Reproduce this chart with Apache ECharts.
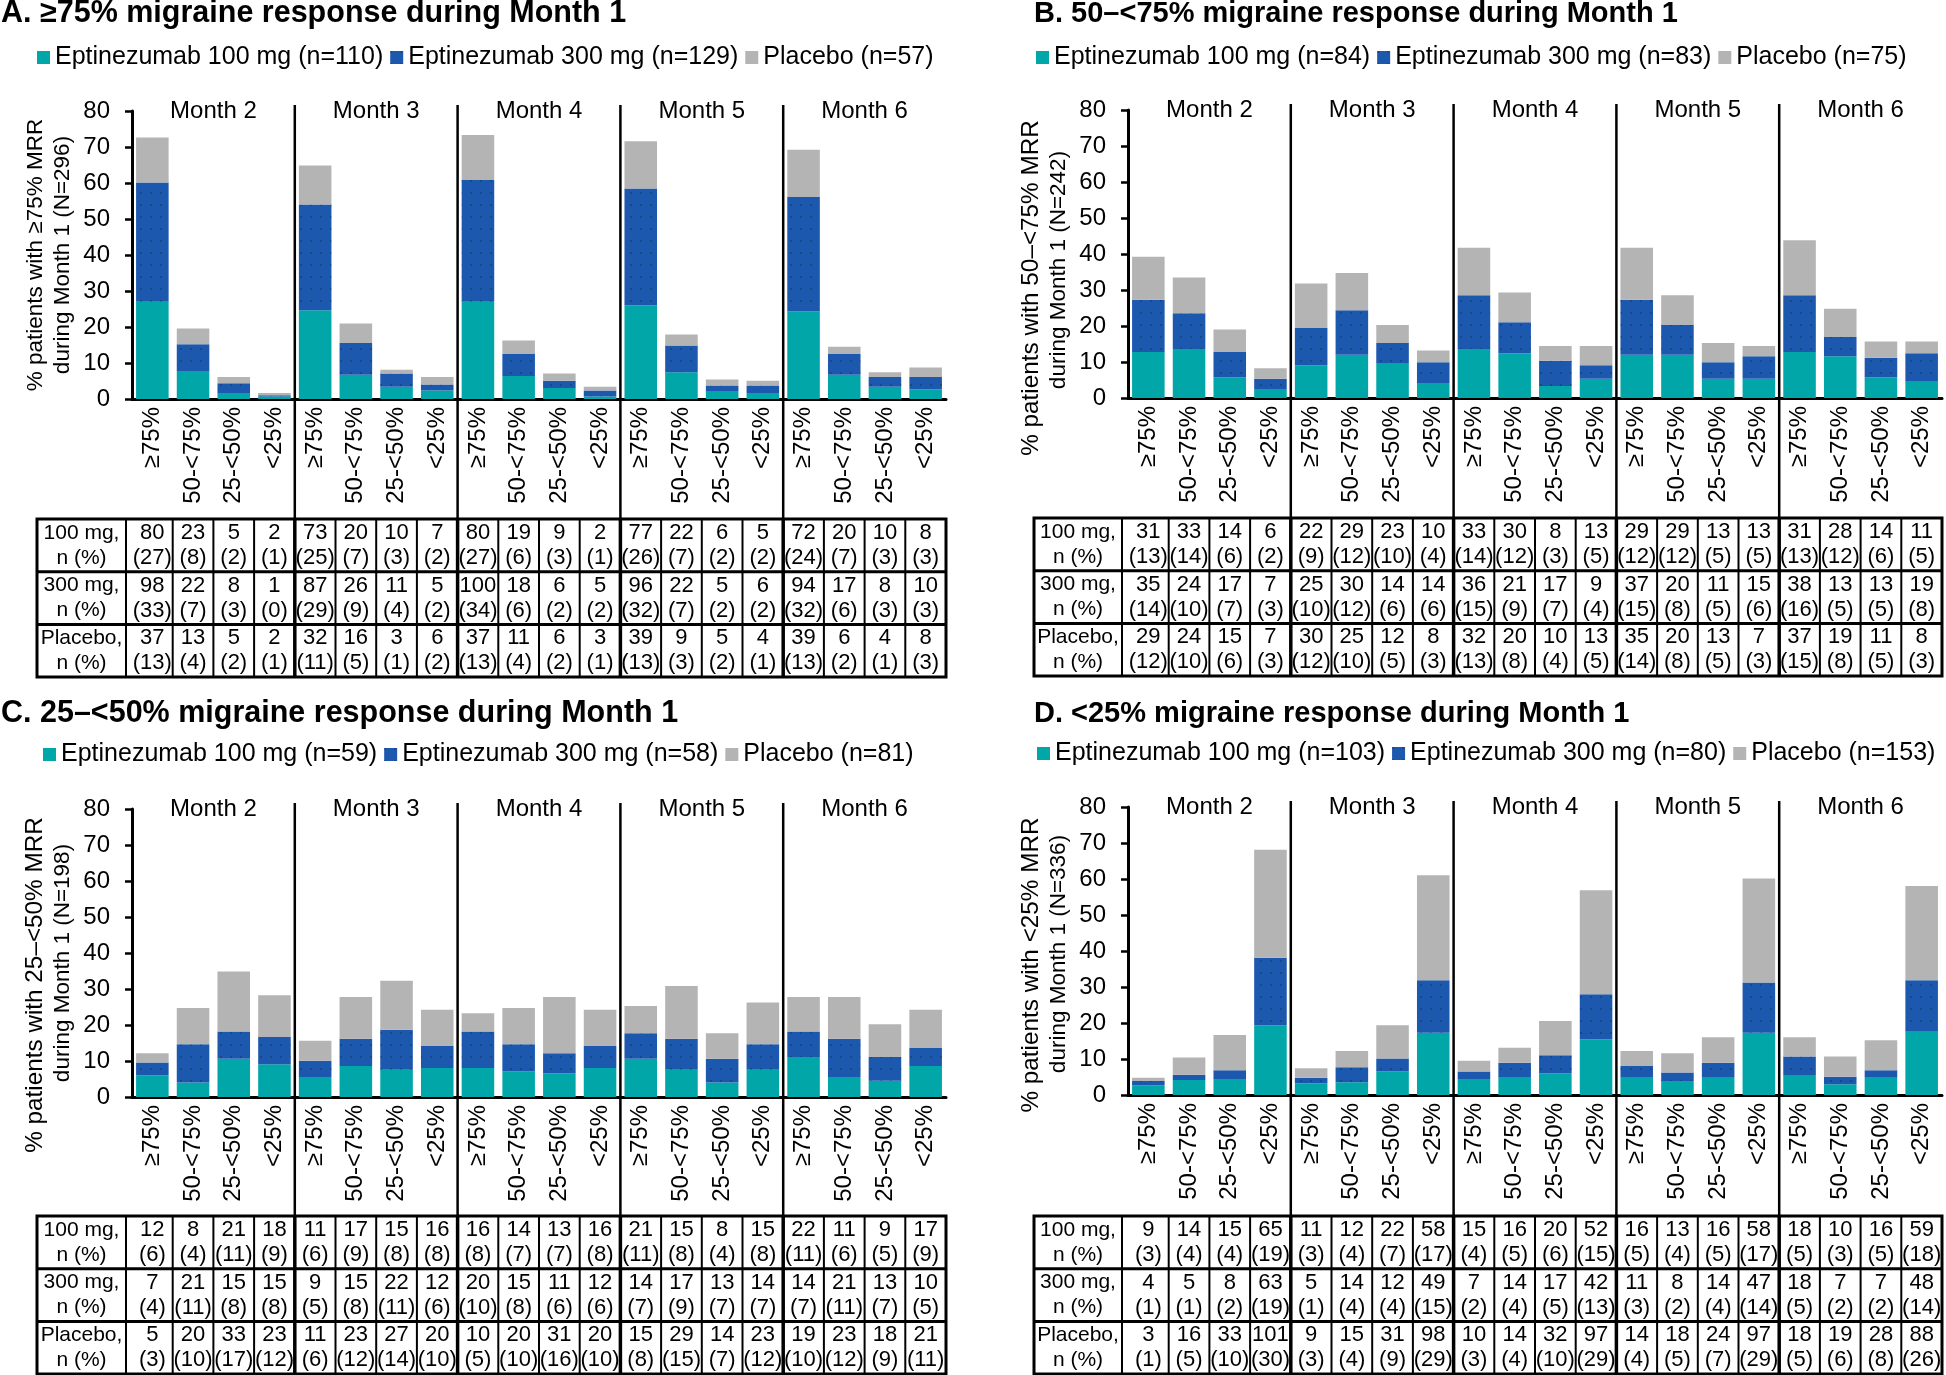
<!DOCTYPE html>
<html><head><meta charset="utf-8">
<script src="https://cdn.jsdelivr.net/npm/echarts@6/dist/echarts.min.js"></script>
<style>html,body{margin:0;padding:0;background:#fff}#main{width:1946px;height:1375px}</style>
</head><body><div id="main"></div>
<script>
// ---------------- DATA ----------------
const months = ['Month 2', 'Month 3', 'Month 4', 'Month 5', 'Month 6'];
const responseCats = ['≥75%', '50-<75%', '25-<50%', '<25%'];
const rowLabels = [['100 mg,', 'n (%)'], ['300 mg,', 'n (%)'], ['Placebo,', 'n (%)']];

const panelTitles = [
  'A. ≥75% migraine response during Month 1',
  'B. 50–<75% migraine response during Month 1',
  'C. 25–<50% migraine response during Month 1',
  'D. <25% migraine response during Month 1'
];
const axisNameLine1 = [
  '% patients with ≥75% MRR',
  '% patients with 50–<75% MRR',
  '% patients with 25–<50% MRR',
  '% patients with <25% MRR'
];
const axisNameLine2 = [
  'during Month 1 (N=296)',
  'during Month 1 (N=242)',
  'during Month 1 (N=198)',
  'during Month 1 (N=336)'
];
const panelTotals = [296, 242, 198, 336];
const legendA = ['Eptinezumab 100 mg (n=110)', 'Eptinezumab 300 mg (n=129)', 'Placebo (n=57)'];
const legendB = ['Eptinezumab 100 mg (n=84)', 'Eptinezumab 300 mg (n=83)', 'Placebo (n=75)'];
const legendC = ['Eptinezumab 100 mg (n=59)', 'Eptinezumab 300 mg (n=58)', 'Placebo (n=81)'];
const legendD = ['Eptinezumab 100 mg (n=103)', 'Eptinezumab 300 mg (n=80)', 'Placebo (n=153)'];

// Panel A (counts n and printed %), order: Month2..Month6 x [>=75, 50-<75, 25-<50, <25]
const A_n100   = [80,23,5,2, 73,20,10,7, 80,19,9,2, 77,22,6,5, 72,20,10,8];
const A_pct100 = [27,8,2,1, 25,7,3,2, 27,6,3,1, 26,7,2,2, 24,7,3,3];
const A_n300   = [98,22,8,1, 87,26,11,5, 100,18,6,5, 96,22,5,6, 94,17,8,10];
const A_pct300 = [33,7,3,0, 29,9,4,2, 34,6,2,2, 32,7,2,2, 32,6,3,3];
const A_nPbo   = [37,13,5,2, 32,16,3,6, 37,11,6,3, 39,9,5,4, 39,6,4,8];
const A_pctPbo = [13,4,2,1, 11,5,1,2, 13,4,2,1, 13,3,2,1, 13,2,1,3];

// Panel B
const B_n100   = [31,33,14,6, 22,29,23,10, 33,30,8,13, 29,29,13,13, 31,28,14,11];
const B_pct100 = [13,14,6,2, 9,12,10,4, 14,12,3,5, 12,12,5,5, 13,12,6,5];
const B_n300   = [35,24,17,7, 25,30,14,14, 36,21,17,9, 37,20,11,15, 38,13,13,19];
const B_pct300 = [14,10,7,3, 10,12,6,6, 15,9,7,4, 15,8,5,6, 16,5,5,8];
const B_nPbo   = [29,24,15,7, 30,25,12,8, 32,20,10,13, 35,20,13,7, 37,19,11,8];
const B_pctPbo = [12,10,6,3, 12,10,5,3, 13,8,4,5, 14,8,5,3, 15,8,5,3];

// Panel C
const C_n100   = [12,8,21,18, 11,17,15,16, 16,14,13,16, 21,15,8,15, 22,11,9,17];
const C_pct100 = [6,4,11,9, 6,9,8,8, 8,7,7,8, 11,8,4,8, 11,6,5,9];
const C_n300   = [7,21,15,15, 9,15,22,12, 20,15,11,12, 14,17,13,14, 14,21,13,10];
const C_pct300 = [4,11,8,8, 5,8,11,6, 10,8,6,6, 7,9,7,7, 7,11,7,5];
const C_nPbo   = [5,20,33,23, 11,23,27,20, 10,20,31,20, 15,29,14,23, 19,23,18,21];
const C_pctPbo = [3,10,17,12, 6,12,14,10, 5,10,16,10, 8,15,7,12, 10,12,9,11];

// Panel D
const D_n100   = [9,14,15,65, 11,12,22,58, 15,16,20,52, 16,13,16,58, 18,10,16,59];
const D_pct100 = [3,4,4,19, 3,4,7,17, 4,5,6,15, 5,4,5,17, 5,3,5,18];
const D_n300   = [4,5,8,63, 5,14,12,49, 7,14,17,42, 11,8,14,47, 18,7,7,48];
const D_pct300 = [1,1,2,19, 1,4,4,15, 2,4,5,13, 3,2,4,14, 5,2,2,14];
const D_nPbo   = [3,16,33,101, 9,15,31,98, 10,14,32,97, 14,18,24,97, 18,19,28,88];
const D_pctPbo = [1,5,10,30, 3,4,9,29, 3,4,10,29, 4,5,7,29, 5,6,8,26];

// ---------------- ASSEMBLY ----------------
const panels = [
  { legend: legendA, n: [A_n100, A_n300, A_nPbo], pct: [A_pct100, A_pct300, A_pctPbo] },
  { legend: legendB, n: [B_n100, B_n300, B_nPbo], pct: [B_pct100, B_pct300, B_pctPbo] },
  { legend: legendC, n: [C_n100, C_n300, C_nPbo], pct: [C_pct100, C_pct300, C_pctPbo] },
  { legend: legendD, n: [D_n100, D_n300, D_nPbo], pct: [D_pct100, D_pct300, D_pctPbo] }
];

const FONT = "'Liberation Sans', Arial, Helvetica, sans-serif";
const armColors = ['#00A6A8', '#1D58AF', '#B4B4B4'];
// layout: grid position, title, legend, table, y-axis-name styling
const layout = [
  { gx: 132,  gy: 111, tx: 1,    ty: -2,  ts: 30.5, lx: 37,   ly: 45,  tabX: 37,   tabY: 519,  n1: 22.5, s1: 0,  s2: 0 },
  { gx: 1128, gy: 110, tx: 1034, ty: -1,  ts: 29,   lx: 1036, ly: 45,  tabX: 1034, tabY: 518,  n1: 24.3, s1: 34, s2: 16 },
  { gx: 132,  gy: 809, tx: 1,    ty: 698, ts: 30.5, lx: 43,   ly: 742, tabX: 37,   tabY: 1216, n1: 24.3, s1: 32, s2: 10 },
  { gx: 1128, gy: 807, tx: 1034, ty: 699, ts: 29,   lx: 1037, ly: 741, tabX: 1034, tabY: 1216, n1: 24.3, s1: 14, s2: 3 }
];
const GW = 814, GH = 288, ROWH = 52.7;

const xCats = [];
months.forEach(() => responseCats.forEach(c => xCats.push(c)));

const option = {
  animation: false,
  backgroundColor: '#fff',
  title: [], legend: [], grid: [], xAxis: [], yAxis: [], series: []
};

panels.forEach((p, pi) => {
  const L = layout[pi];
  option.title.push({
    text: panelTitles[pi], left: L.tx, top: L.ty, padding: 0,
    textStyle: { fontFamily: FONT, fontSize: L.ts, fontWeight: 'bold', color: '#000' }
  });
  option.legend.push({
    data: p.legend, left: L.lx, top: L.ly, padding: 0, icon: 'rect',
    itemWidth: 13, itemHeight: 13, itemGap: 7, selectedMode: false,
    textStyle: { fontFamily: FONT, fontSize: 25, color: '#000' }
  });
  option.grid.push({ left: L.gx, top: L.gy, width: GW, height: GH, outerBoundsMode: 'none', containLabel: false });
  option.xAxis.push({
    type: 'category', gridIndex: pi, data: xCats, boundaryGap: true,
    axisLine: { show: true, lineStyle: { color: '#000', width: 3 } },
    axisTick: { show: false },
    axisLabel: { interval: 0, rotate: 90, margin: 8, fontFamily: FONT, fontSize: 24, color: '#000' },
    splitLine: { show: false }
  });
  option.xAxis.push({
    type: 'category', gridIndex: pi, position: 'top', data: months, boundaryGap: true,
    axisLine: { show: false }, axisTick: { show: false }, splitLine: { show: false },
    axisLabel: { interval: 0, margin: 0, verticalAlign: 'middle', fontFamily: FONT, fontSize: 24, color: '#000' }
  });
  option.yAxis.push({
    type: 'value', gridIndex: pi, min: 0, max: 80, interval: 10,
    name: '{l1|' + axisNameLine1[pi] + '}\n{l2|' + axisNameLine2[pi] + '}',
    nameLocation: 'middle', nameRotate: 90, nameGap: 56,
    nameTextStyle: {
      fontFamily: FONT, fontSize: 22.5, color: '#000', lineHeight: 27,
      rich: {
        l1: { fontFamily: FONT, fontSize: L.n1, color: '#000', lineHeight: 27, padding: [0, 2 * L.s1, 0, 0] },
        l2: { fontFamily: FONT, fontSize: 22.5, color: '#000', lineHeight: 27, padding: [0, 2 * L.s2, 0, 0] }
      }
    },
    axisLine: { show: true, lineStyle: { color: '#000', width: 3 } },
    axisTick: { show: true, length: 7, lineStyle: { color: '#000', width: 2.5 } },
    axisLabel: { margin: 22, fontFamily: FONT, fontSize: 24, color: '#000' },
    splitLine: { show: false }
  });
  p.n.forEach((arr, ai) => {
    const item = { color: armColors[ai] };
    if (ai === 1) {
      item.decal = { symbol: 'rect', symbolSize: 1, color: 'rgba(10,40,30,0.3)', dashArrayX: [1.5, 8], dashArrayY: [1.5, 10] };
    }
    option.series.push({
      type: 'bar', name: p.legend[ai], stack: 'stack' + pi,
      xAxisIndex: pi * 2, yAxisIndex: pi,
      barCategoryGap: '20%',
      data: arr.map(v => v / panelTotals[pi] * 100),
      itemStyle: item
    });
  });
});

const chart = echarts.init(document.getElementById('main'), null, { renderer: 'canvas' });
chart.setOption(option);

// ---------------- TABLES & SEPARATORS ----------------
const els = [];
const BLK = '#000';
function line(x1, y1, x2, y2, w) {
  els.push({ type: 'line', silent: true, shape: { x1, y1, x2, y2 }, style: { stroke: BLK, lineWidth: w } });
}
function txt(x, y, t, size) {
  els.push({ type: 'text', silent: true, x, y,
    style: { text: t, align: 'center', verticalAlign: 'middle', fontFamily: FONT, fontSize: size, fill: BLK } });
}
panels.forEach((p, pi) => {
  const L = layout[pi];
  const cx = i => chart.convertToPixel({ xAxisIndex: pi * 2, yAxisIndex: pi }, [i, 0])[0];
  const catW = cx(1) - cx(0);
  const b = i => cx(i) - catW / 2;
  const right = b(19) + catW;
  const top = L.tabY, bottom = L.tabY + ROWH * 3;
  const labRight = b(0) - 6;
  // month separators
  for (let k = 1; k < 5; k++) line(b(4 * k), L.gy - 6, b(4 * k), top, 2.5);
  // table text
  for (let r = 0; r < 3; r++) {
    const y0 = top + r * ROWH;
    txt((L.tabX + labRight) / 2, y0 + 14, rowLabels[r][0], 21);
    txt((L.tabX + labRight) / 2, y0 + 39, rowLabels[r][1], 21);
    for (let i = 0; i < 20; i++) {
      txt(cx(i), y0 + 14, String(p.n[r][i]), 22);
      txt(cx(i), y0 + 39, '(' + p.pct[r][i] + ')', 22);
    }
  }
  // table lines
  line(labRight, top, labRight, bottom, 2);
  for (let i = 1; i < 20; i++) {
    line(b(i), top, b(i), bottom, i % 4 === 0 ? 3.5 : 2);
  }
  for (let r = 1; r < 3; r++) line(L.tabX, top + r * ROWH, right, top + r * ROWH, 3);
  els.push({ type: 'rect', silent: true, shape: { x: L.tabX, y: top, width: right - L.tabX, height: bottom - top },
    style: { fill: 'none', stroke: BLK, lineWidth: 3 } });
});
chart.setOption({ graphic: { elements: els } });
</script>
</body></html>
